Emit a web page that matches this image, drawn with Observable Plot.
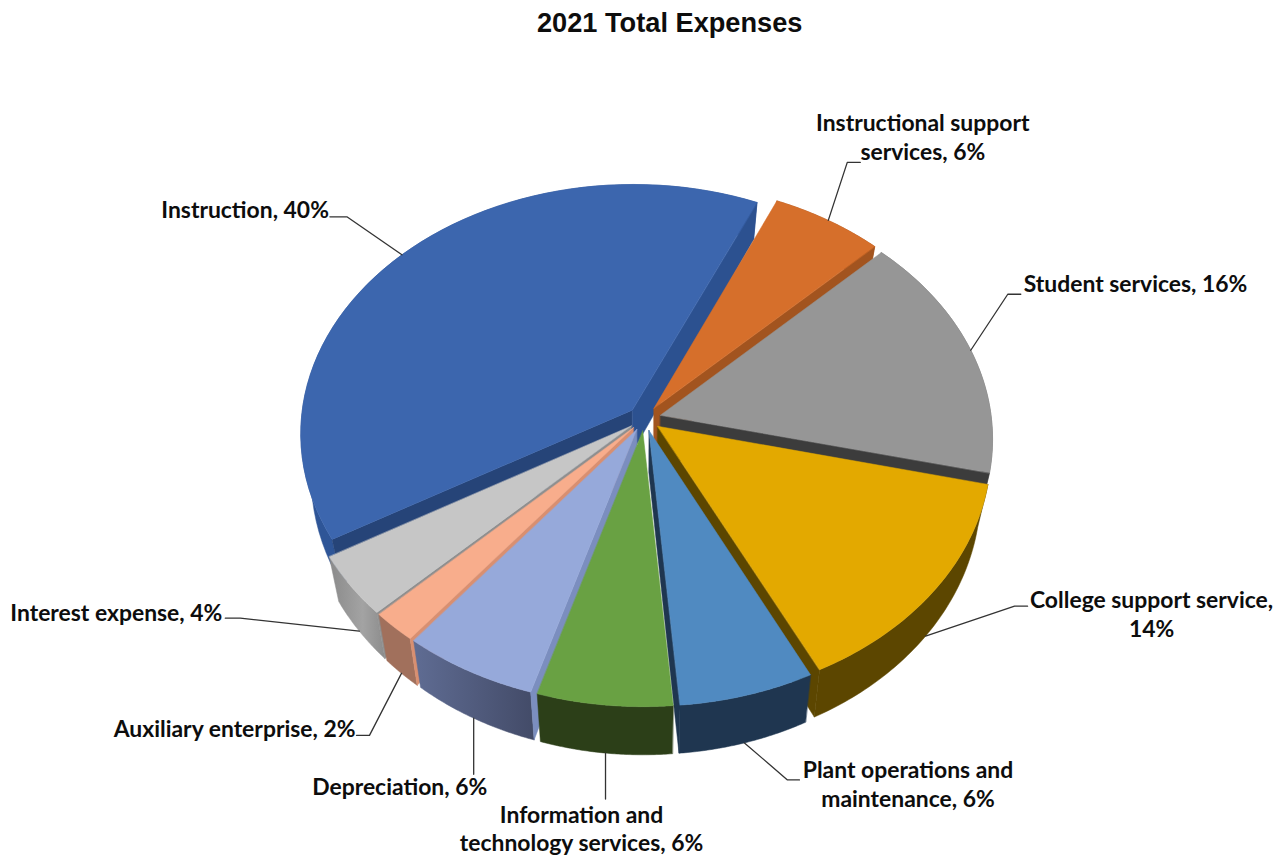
<!DOCTYPE html>
<html>
<head>
<meta charset="utf-8">
<script src="https://cdn.jsdelivr.net/npm/d3@7"></script>
<script src="https://cdn.jsdelivr.net/npm/@observablehq/plot@0.6"></script>
<style>
  html, body { margin: 0; background: #fff; }
  #title { height: 46px; padding-left: 537px; font: bold 27.2px/46px "Liberation Sans", Arial, sans-serif; color: #0d0d0d; white-space: nowrap; }
  svg { display: block; }
</style>
</head>
<body>
<div id="title">2021 Total Expenses</div>
<div id="chart"></div>
<script>
// Expense categories and their share of the total, in percent, clockwise.
const categories = ["Instruction", "Instructional support\nservices", "Student services", "College support service,\n", "Plant operations and\nmaintenance", "Information and\ntechnology services", "Depreciation", "Auxiliary enterprise", "Interest expense"];
const shares = [40, 6, 16, 14, 6, 6, 6, 2, 4];

// Face colours of each wedge.
const topColors = ["#3c66ae", "#d66f2b", "#969696", "#e3a900", "#508ac1", "#69a143", "#96a9da", "#f8ad8c", "#c6c6c6"];
const rimColors = ["#2e5597", "#a0521f", "#6e6e6e", "#5c4600", "#1f3650", "#2c3f18", "url(#rim-depreciation)", "#a1705c", "url(#rim-interest)"];
const cutColors = ["#2c5190", "#a2541f", "#3c3c3c", "#5c4600", "#1f3650", "#2c3f18", "#7b8ebf", "#d98f70", "#8f8f8f"];
const startCutColors = ["#264478", null, null, null, null, null, "#7b8ebf", "#d98f70", "#8f8f8f"];

// Where each callout's elbow and text sit, as offsets from the wedge's anchor point.
const calloutLayout = [
  {elbow: [-55, -38], end: -17, text: [-73, -46], anchor: "end"},
  {elbow: [19, -58], end: 13, text: [94.5, -84], anchor: "middle"},
  {elbow: [37, -56], end: 13, text: [53, -67], anchor: "start"},
  {elbow: [89, -30], end: 13, text: [226, -23], anchor: "middle"},
  {elbow: [43, 37], end: 12, text: [163.5, 40.5], anchor: "middle"},
  {elbow: [0, 46], end: 0, text: [-24, 75], anchor: "middle"},
  {elbow: [0, 56], end: 0, text: [-74, 68], anchor: "middle"},
  {elbow: [-32, 62], end: -13, text: [-46, 55], anchor: "end"},
  {elbow: [-119, -13], end: -15, text: [-137, -19.5], anchor: "end"}
];

// Projection of the tilted, exploded pie.
const pie = {cx: 644, cy: 418, rx: 331, ry: 248, perspective: 0.092, explode: 0.05, startAngle: -120};
const base = {scaleX: 0.97, scaleY: 1.022, drop: 41.8};
const rad = (deg) => (deg * Math.PI) / 180;

const wedges = [];
shares.reduce((sum, share, i) => {
  const a0 = pie.startAngle + sum * 3.6;
  const a1 = a0 + share * 3.6;
  wedges.push({i, a0, a1, mid: (a0 + a1) / 2});
  return sum + share;
}, 0);

// Screen position of a point on a wedge; angle null means the wedge's tip.
function project(w, angle, bottom = false) {
  const m = rad(w.mid);
  const a = angle == null ? null : rad(angle);
  const u = pie.explode * Math.sin(m) + (a == null ? 0 : Math.sin(a));
  const v = pie.explode * Math.cos(m) + (a == null ? 0 : Math.cos(a));
  const d = 1 + pie.perspective * v;
  const x = pie.cx + (pie.rx * u) / d;
  const y = pie.cy - (pie.ry * v) / d;
  return bottom
    ? {x: pie.cx + base.scaleX * (x - pie.cx), y: pie.cy + base.scaleY * (y - pie.cy) + base.drop}
    : {x, y};
}

const arc = (w, bottom) => d3.range(0, 61).map((k) => project(w, w.a0 + ((w.a1 - w.a0) * k) / 60, bottom));
const polygon = (points, fill) => Plot.line(points, {x: "x", y: "y", curve: "linear-closed", fill, stroke: fill, strokeWidth: 0.5});

// Wedges are painted back to front so nearer ones cover farther ones.
const paintOrder = [0, 1, 2, 3, 8, 7, 6, 4, 5];
const faces = paintOrder.flatMap((i) => {
  const w = wedges[i];
  const marks = [polygon([...arc(w, false), ...arc(w, true).reverse()], rimColors[i])];
  if (Math.sin(rad(w.a0)) < 0 && startCutColors[i]) {
    marks.push(polygon([project(w), project(w, w.a0), project(w, w.a0, true), project(w, null, true)], startCutColors[i]));
  }
  if (Math.sin(rad(w.a1)) > 0) {
    marks.push(polygon([project(w), project(w, w.a1), project(w, w.a1, true), project(w, null, true)], cutColors[i]));
  }
  marks.push(polygon([project(w), ...arc(w, false)], topColors[i]));
  return marks;
});

// Callouts start at the middle of the wedge's outer edge.
const callouts = wedges.map((w) => {
  const layout = calloutLayout[w.i];
  const anchor = project(w, w.mid, Math.cos(rad(w.mid)) < 0);
  const elbow = {x: anchor.x + layout.elbow[0], y: anchor.y + layout.elbow[1]};
  const name = categories[w.i].replace(",\n", "");
  const label = w.i === 3 ? `${name},\n${shares[w.i]}%` : `${name}, ${shares[w.i]}%`;
  return {
    i: w.i,
    label,
    anchor: layout.anchor,
    tx: anchor.x + layout.text[0],
    ty: anchor.y + layout.text[1],
    path: [anchor, elbow, {x: elbow.x + layout.end, y: elbow.y}]
  };
});

// Horizontal shading on the two outer walls that carry a gradient.
function gradients() {
  const defs = d3.create("svg:defs");
  const add = (id, stops) => {
    const g = defs.append("linearGradient").attr("id", id);
    stops.forEach(([offset, color]) => g.append("stop").attr("offset", offset).attr("stop-color", color));
  };
  add("rim-depreciation", [["0%", "#5f6c93"], ["100%", "#434b68"]]);
  add("rim-interest", [["0%", "#8a8a8a"], ["60%", "#a3a3a3"], ["100%", "#8c8c8c"]]);
  return defs.node();
}

const chart = Plot.plot({
  width: 1283,
  height: 809,
  margin: 0,
  x: {type: "linear", domain: [0, 1283], range: [0, 1283], axis: null},
  y: {type: "linear", domain: [46, 855], range: [0, 809], axis: null},
  style: {background: "#fff"},
  marks: [
    gradients,
    ...faces,
    ...callouts.map((c) => Plot.line(c.path, {x: "x", y: "y", stroke: "#333", strokeWidth: 1.3})),
    ...["start", "middle", "end"].map((textAnchor) =>
      Plot.text(callouts.filter((c) => c.anchor === textAnchor), {
        x: "tx",
        y: "ty",
        text: "label",
        textAnchor,
        lineHeight: 1.245,
        fontFamily: "Lato, 'Open Sans', sans-serif",
        fontWeight: "bold",
        fontSize: 22.9,
        fill: "#0d0d0d"
      })
    )
  ]
});
document.getElementById("chart").append(chart);
</script>
</body>
</html>
